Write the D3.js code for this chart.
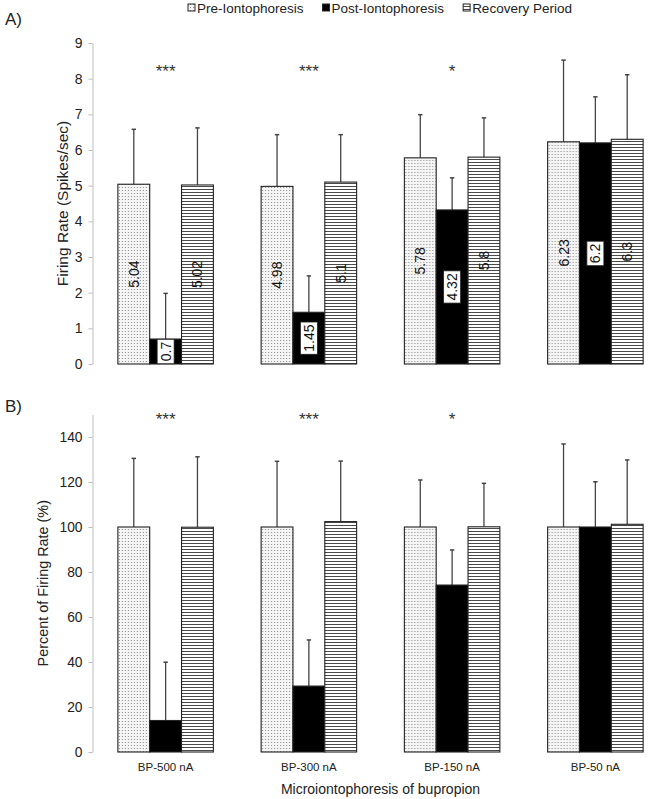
<!DOCTYPE html>
<html><head><meta charset="utf-8">
<script src="https://cdn.jsdelivr.net/npm/d3@7"></script>
<style>
body{margin:0;background:#fff}
svg{display:block;font-family:"Liberation Sans",Arial,Helvetica,sans-serif}
</style>
</head><body>
<svg id="c" width="653" height="799"></svg>
<script>
// ---------- data ----------
const categories = ["BP-500 nA", "BP-300 nA", "BP-150 nA", "BP-50 nA"];
const seriesNames = ["Pre-Iontophoresis", "Post-Iontophoresis", "Recovery Period"];
const significance = ["***", "***", "*", ""];

// Panel A: firing rate (spikes/sec), means and upper error (SEM)
const ratePre  = [5.04, 4.98, 5.78, 6.23];
const ratePost = [0.7, 1.45, 4.32, 6.2];
const rateRec  = [5.02, 5.1, 5.8, 6.3];
const rateErrPre  = [1.54, 1.45, 1.21, 2.29];
const rateErrPost = [1.28, 1.02, 0.90, 1.29];
const rateErrRec  = [1.60, 1.33, 1.10, 1.81];
const rateTicks = [0, 1, 2, 3, 4, 5, 6, 7, 8, 9];

// Panel B: percent of firing rate
const pctPre  = [100, 100, 100, 100];
const pctPost = [14, 29.3, 74.2, 100];
const pctRec  = [99.9, 102.4, 100.1, 101.2];
const pctErrPre  = [30.5, 29.2, 20.9, 36.9];
const pctErrPost = [25.9, 20.5, 15.6, 20.1];
const pctErrRec  = [31.3, 26.9, 19.3, 28.6];
const pctTicks = [0, 20, 40, 60, 80, 100, 120, 140];

// ---------- setup ----------
const svg = d3.select("#c");
const defs = svg.append("defs");

const pDot = defs.append("pattern").attr("id", "pDot").attr("patternUnits", "userSpaceOnUse")
  .attr("width", 3).attr("height", 3);
pDot.append("rect").attr("width", 3).attr("height", 3).attr("fill", "#f5f5f5");
pDot.append("rect").attr("x", 1).attr("y", 1).attr("width", 1).attr("height", 1).attr("fill", "#8a8a8a");

const pLine = defs.append("pattern").attr("id", "pLine").attr("patternUnits", "userSpaceOnUse")
  .attr("width", 6).attr("height", 3);
pLine.append("rect").attr("width", 6).attr("height", 3).attr("fill", "#fff");
pLine.append("rect").attr("y", 0).attr("width", 6).attr("height", 1).attr("fill", "#4a4a4a");

const fills = ["url(#pDot)", "#000", "url(#pLine)"];
const textCol = "#222";

const x = d3.scaleBand().domain(categories).range([94, 667]).paddingInner(1/3).paddingOuter(1/6);
const xs = d3.scaleBand().domain([0, 1, 2]).range([0, x.bandwidth()]);

function panel(cfg) {
  const { y, ticks, means, errs, labels, starValue, title, titleX, titleSize, tickSize, letter, letterY } = cfg;
  const g = svg.append("g");

  // y axis
  const ax = g.append("g").attr("transform", "translate(92.5,0)")
    .call(d3.axisLeft(y).tickValues(ticks).tickSize(4).tickSizeOuter(0).tickPadding(6));
  ax.select(".domain").attr("stroke", "#bdbdbd");
  ax.selectAll(".tick line").attr("stroke", "#bdbdbd");
  ax.selectAll(".tick text").attr("fill", textCol).attr("font-size", tickSize)
    .attr("font-family", "Liberation Sans, Arial, sans-serif");

  // y title
  const yr = y.range();
  g.append("text")
    .attr("transform", `translate(${titleX},${(yr[0] + yr[1]) / 2}) rotate(-90)`)
    .attr("text-anchor", "middle").attr("dominant-baseline", "central")
    .attr("font-size", titleSize).attr("fill", textCol).text(title);

  // panel letter
  g.append("text").attr("x", 5).attr("y", letterY).attr("dominant-baseline", "central")
    .attr("font-size", 17).attr("fill", textCol).text(letter);

  // bars
  categories.forEach((cat, ci) => {
    const gg = g.append("g").attr("transform", `translate(${x(cat)},0)`);
    means.forEach((arr, si) => {
      const v = arr[ci], e = errs[si][ci];
      const bx = xs(si), bw = xs.bandwidth(), cx = bx + bw / 2;
      gg.append("line").attr("x1", cx).attr("x2", cx).attr("y1", y(v)).attr("y2", y(v + e))
        .attr("stroke", "#444").attr("stroke-width", 1.3);
      gg.append("line").attr("x1", cx - 2.2).attr("x2", cx + 2.2).attr("y1", y(v + e)).attr("y2", y(v + e))
        .attr("stroke", "#444").attr("stroke-width", 1.5);
      gg.append("rect").attr("x", bx).attr("y", y(v)).attr("width", bw).attr("height", y(0) - y(v))
        .attr("fill", fills[si]).attr("stroke", "#222").attr("stroke-width", 1.1);
    });
    if (labels) {
      means.forEach((arr, si) => {
        const v = arr[ci];
        const cx = xs(si) + xs.bandwidth() / 2;
        const lg = gg.append("g").attr("transform", `translate(${cx},${y(v / 2)}) rotate(-90)`);
        const t = lg.append("text").attr("text-anchor", "middle").attr("dominant-baseline", "central")
          .attr("font-size", 14).attr("fill", "#111").text(String(v));
        if (si === 1) {
          const len = t.node().getComputedTextLength();
          lg.insert("rect", "text").attr("x", -len / 2 - 2.5).attr("y", -8.5)
            .attr("width", len + 5).attr("height", 17)
            .attr("fill", "#fff").attr("stroke", "#222").attr("stroke-width", 0.8);
        }
      });
    }
    if (significance[ci]) {
      g.append("text").attr("x", x(cat) + x.bandwidth() / 2).attr("y", y(starValue))
        .attr("text-anchor", "middle").attr("dominant-baseline", "central")
        .attr("font-size", 17).attr("fill", "#333").text(significance[ci]);
    }
  });
}

panel({
  y: d3.scaleLinear().domain([0, 9]).range([364, 43]),
  ticks: rateTicks,
  means: [ratePre, ratePost, rateRec],
  errs: [rateErrPre, rateErrPost, rateErrRec],
  labels: true, starValue: 8.2,
  title: "Firing Rate (Spikes/sec)", titleX: 62, titleSize: 15.5, tickSize: 14,
  letter: "A)", letterY: 19
});

panel({
  y: d3.scaleLinear().domain([0, 150]).range([752, 414.5]),
  ticks: pctTicks,
  means: [pctPre, pctPost, pctRec],
  errs: [pctErrPre, pctErrPost, pctErrRec],
  labels: false, starValue: 148,
  title: "Percent of Firing Rate (%)", titleX: 43, titleSize: 14.4, tickSize: 13.8,
  letter: "B)", letterY: 406
});

// x category labels (bottom)
svg.append("g").selectAll("text").data(categories).join("text")
  .attr("x", d => x(d) + x.bandwidth() / 2).attr("y", 767)
  .attr("text-anchor", "middle").attr("dominant-baseline", "central")
  .attr("font-size", 11.5).attr("fill", textCol).text(d => d);

svg.append("text").attr("x", (x(categories[0]) + x(categories[3]) + x.bandwidth()) / 2).attr("y", 789)
  .attr("text-anchor", "middle").attr("dominant-baseline", "central")
  .attr("font-size", 14).attr("fill", textCol).text("Microiontophoresis of bupropion");

// legend
const leg = svg.append("g");
let lx = 188;
seriesNames.forEach((name, i) => {
  leg.append("rect").attr("x", lx).attr("y", 4).attr("width", 7).attr("height", 7)
    .attr("fill", fills[i]).attr("stroke", "#222").attr("stroke-width", 1);
  const t = leg.append("text").attr("x", lx + 9).attr("y", 8).attr("dominant-baseline", "central")
    .attr("font-size", 13.5).attr("fill", textCol).text(name);
  lx += 9 + t.node().getComputedTextLength() + 19;
});
</script>
</body></html>
